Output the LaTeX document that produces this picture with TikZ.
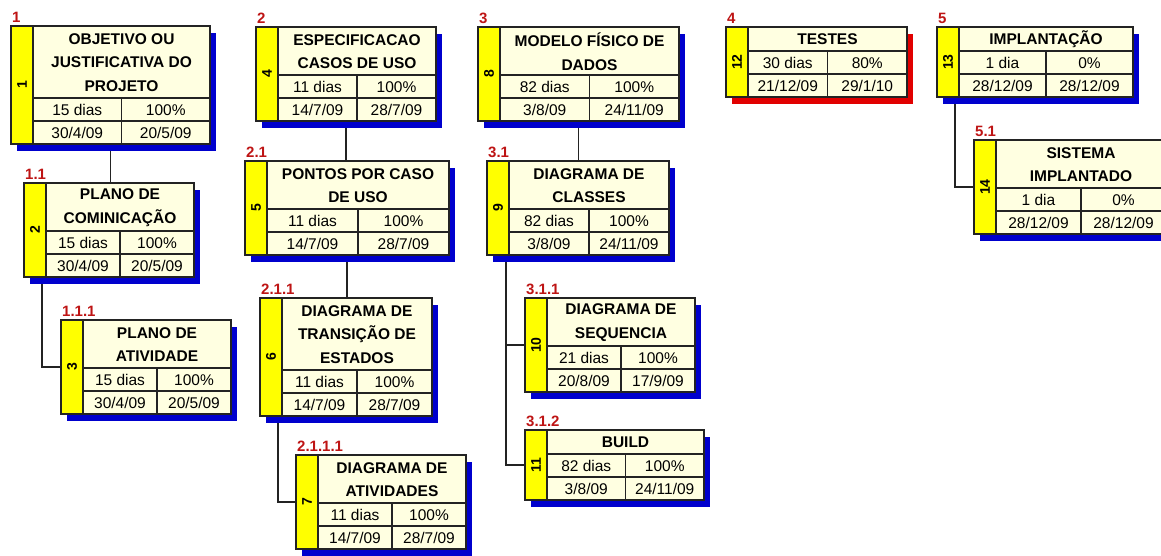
\documentclass[tikz,border=0pt]{standalone}
\usepackage{fontspec}
\setmainfont{Liberation Sans}
\pgfdeclarelayer{bglayer}
\pgfdeclarelayer{connlayer}
\pgfsetlayers{bglayer,connlayer,main}
\definecolor{cream}{RGB}{255,255,225}
\definecolor{stripy}{RGB}{255,255,0}
\definecolor{shblue}{RGB}{0,0,205}
\definecolor{shred}{RGB}{225,0,0}
\definecolor{lblred}{RGB}{190,20,20}
\definecolor{edge}{RGB}{35,35,35}
\tikzset{
  boxbody/.style={fill=cream, inner sep=0pt, outer sep=0pt, anchor=north west},
  titletext/.style={font=\bfseries\fontsize{15.5}{23.5}\selectfont, align=center, inner sep=0pt},
  celltext/.style={font=\fontsize{15.5}{18}\selectfont, inner sep=0pt, anchor=base},
  numtext/.style={font=\bfseries\fontsize{14}{14}\selectfont, rotate=90, inner sep=0pt},
  wbslabel/.style={font=\bfseries\fontsize{15}{15}\selectfont, text=lblred, anchor=base west, inner sep=0pt},
  frame/.style={draw=edge, line width=1.1pt},
  conn/.style={draw=edge, line width=1.1pt},
}
\newcommand\wbsat[5]{\def\bname{#1}\def\bx{#2}\def\by{#3}\def\bw{#4}\def\bn{#5}}
\newcommand\wbsdraw[8]{%
  \pgfmathsetmacro\th{24*\bn}%
  \pgfmathsetmacro\bh{\th+46}%
  \pgfmathsetmacro\xr{\bx+\bw}%
  \pgfmathsetmacro\yb{\by+\bh}%
  \pgfmathsetmacro\xs{\bx+22}%
  \pgfmathsetmacro\xm{(\xs+\xr)/2}%
  \pgfmathsetmacro\yt{\by+\th}%
  \pgfmathsetmacro\yr{\yt+23}%
  \fill[#8] (\bx+6,\by+7) rectangle (\xr+6,\yb+7);
  \node[boxbody, minimum width=\bw pt, minimum height=\bh pt] (\bname) at (\bx,\by) {};
  \fill[stripy] (\bx,\by) rectangle (\xs,\yb);
  \draw[frame] (\bx,\by) rectangle (\xr,\yb);
  \draw[frame] (\xs,\by) -- (\xs,\yb) (\xs,\yt) -- (\xr,\yt) (\xs,\yr) -- (\xr,\yr) (\xm,\yt) -- (\xm,\yb);
  \node[wbslabel] (\bname l) at (\bx+1,\by-4) {#1};
  \node[numtext] (\bname n) at (\bx+11,{(\by+\yb)/2}) {#2};
  \node[titletext] (\bname t) at ({(\xs+\xr)/2},{\by+\th/2+0.5}) {#3};
  \node[celltext] (\bname d) at ({(\xs+\xm)/2},\yt+17) {#4};
  \node[celltext] (\bname p) at ({(\xm+\xr)/2},\yt+17) {#5};
  \node[celltext] (\bname s) at ({(\xs+\xm)/2},\yr+17) {#6};
  \node[celltext] (\bname e) at ({(\xm+\xr)/2},\yr+17) {#7};
}
\begin{document}
\begin{tikzpicture}[x=1pt,y=-1pt]
\path[use as bounding box] (0,0) rectangle (1161,555);
\begin{pgfonlayer}{bglayer}
\fill[white] (0,0) rectangle (1161,555);
\end{pgfonlayer}
\clip (0,0) rectangle (1161,555);
% column 1
\wbsat{b1}{11}{26}{199}{3}
\wbsdraw{1}{1}{OBJETIVO OU\\JUSTIFICATIVA DO\\PROJETO}{15 dias}{100\%}{30/4/09}{20/5/09}{shblue}
\wbsat{b11}{24}{183}{170}{2}
\wbsdraw{1.1}{2}{PLANO DE\\COMINICAÇÃO}{15 dias}{100\%}{30/4/09}{20/5/09}{shblue}
\wbsat{b111}{61}{320}{170}{2}
\wbsdraw{1.1.1}{3}{PLANO DE\\ATIVIDADE}{15 dias}{100\%}{30/4/09}{20/5/09}{shblue}
% column 2
\wbsat{b2}{256}{27}{180}{2}
\wbsdraw{2}{4}{ESPECIFICACAO\\CASOS DE USO}{11 dias}{100\%}{14/7/09}{28/7/09}{shblue}
\wbsat{b21}{245}{161}{204}{2}
\wbsdraw{2.1}{5}{PONTOS POR CASO\\DE USO}{11 dias}{100\%}{14/7/09}{28/7/09}{shblue}
\wbsat{b211}{260}{298}{172}{3}
\wbsdraw{2.1.1}{6}{DIAGRAMA DE\\TRANSIÇÃO DE\\ESTADOS}{11 dias}{100\%}{14/7/09}{28/7/09}{shblue}
\wbsat{b2111}{296}{455}{170}{2}
\wbsdraw{2.1.1.1}{7}{DIAGRAMA DE\\ATIVIDADES}{11 dias}{100\%}{14/7/09}{28/7/09}{shblue}
% column 3
\wbsat{b3}{478}{27}{201}{2}
\wbsdraw{3}{8}{MODELO FÍSICO DE\\DADOS}{82 dias}{100\%}{3/8/09}{24/11/09}{shblue}
\wbsat{b31}{487}{161}{182}{2}
\wbsdraw{3.1}{9}{DIAGRAMA DE\\CLASSES}{82 dias}{100\%}{3/8/09}{24/11/09}{shblue}
\wbsat{b311}{525}{298}{170}{2}
\wbsdraw{3.1.1}{10}{DIAGRAMA DE\\SEQUENCIA}{21 dias}{100\%}{20/8/09}{17/9/09}{shblue}
\wbsat{b312}{525}{430}{179}{1}
\wbsdraw{3.1.2}{11}{BUILD}{82 dias}{100\%}{3/8/09}{24/11/09}{shblue}
% column 4
\wbsat{b4}{726}{27}{181}{1}
\wbsdraw{4}{12}{TESTES}{30 dias}{80\%}{21/12/09}{29/1/10}{shred}
% column 5
\wbsat{b5}{937}{27}{196}{1}
\wbsdraw{5}{13}{IMPLANTAÇÃO}{1 dia}{0\%}{28/12/09}{28/12/09}{shblue}
\wbsat{b51}{974}{140}{192}{2}
\wbsdraw{5.1}{14}{SISTEMA\\IMPLANTADO}{1 dia}{0\%}{28/12/09}{28/12/09}{shblue}
% connectors
\begin{pgfonlayer}{connlayer}
\draw[conn] (b1.south) -- (b1.south |- b11.north);
\draw[conn] ([xshift=18pt]b11.south west) |- (b111.west);
\draw[conn] (b2.south) -- (b2.south |- b21.north);
\draw[conn] (b21.south) -- (b21.south |- b211.north);
\draw[conn] ([xshift=18pt]b211.south west) |- (b2111.west);
\draw[conn] (b3.south) -- (b3.south |- b31.north);
\draw[conn] ([xshift=19pt]b31.south west) |- (b311.west);
\draw[conn] ([xshift=19pt]b31.south west) |- (b312.west);
\draw[conn] ([xshift=18pt]b5.south west) |- (b51.west);
\end{pgfonlayer}
\end{tikzpicture}
\end{document}
